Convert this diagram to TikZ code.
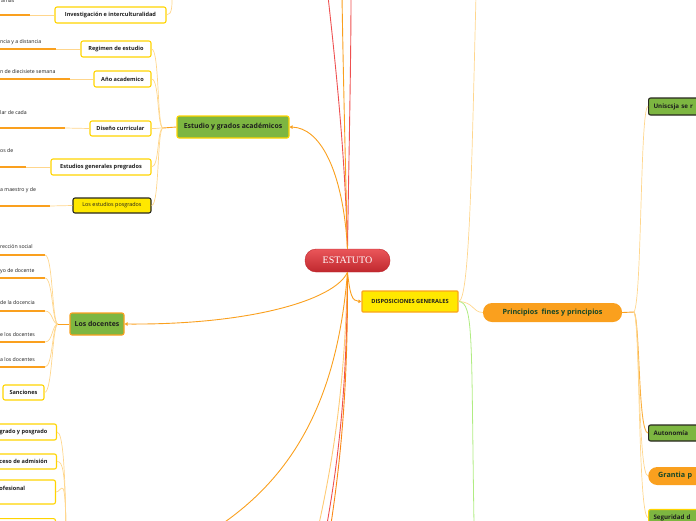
\documentclass[tikz,border=0pt]{standalone}
\usepackage{fontspec}
\usepackage{tikz}
\usetikzlibrary{positioning, arrows.meta, calc}
\newfontfamily\mapfont{Open Sans}
\newfontfamily\rootfont{Liberation Serif}
\definecolor{map_orange}{RGB}{250,160,30}
\definecolor{map_deep}{RGB}{250,135,20}
\definecolor{map_pale}{RGB}{255,214,140}
\definecolor{map_yellow}{RGB}{255,212,0}
\definecolor{map_lemon}{RGB}{255,232,0}
\definecolor{map_green}{RGB}{125,182,65}
\definecolor{map_black}{RGB}{40,40,30}
\definecolor{map_red}{RGB}{238,80,80}
\definecolor{map_lime}{RGB}{176,236,130}
\definecolor{map_text}{RGB}{30,30,30}
\definecolor{map_dkgreen}{RGB}{20,70,40}
\definecolor{map_rtop}{RGB}{234,86,90}
\definecolor{map_rbot}{RGB}{192,40,46}

\begin{document}
\begin{tikzpicture}[x=1pt, y=-1pt, >={Triangle[length=3pt, width=3.5pt]},
      sub/.style={draw=map_yellow, line width=1.1pt, fill=white, rounded corners=2pt,
        minimum height=15pt, inner sep=2pt, text=map_text,
        font=\mapfont\fontsize{5.6}{6.5}\selectfont\bfseries},
      hilite/.style={sub, fill=map_lemon, draw=map_black},
      branch/.style={sub, fill=map_green, minimum height=22pt,
        font=\mapfont\fontsize{6.9}{8}\selectfont\bfseries},
      pill/.style={fill=map_orange, rounded corners=9pt, minimum height=19pt,
        text=map_dkgreen, font=\mapfont\fontsize{7.2}{8.5}\selectfont\bfseries},
      cut/.style={anchor=west, text width=70pt, align=left, inner xsep=5pt},
      root/.style={rounded corners=11pt, minimum width=85pt, minimum height=23pt,
        top color=map_rtop, bottom color=map_rbot, draw=map_rbot, text=white,
        font=\rootfont\fontsize{10}{12}\selectfont},
      leaf/.style={anchor=west, inner sep=0pt, text=map_text,
        font=\mapfont\fontsize{5.2}{6}\selectfont},
      uline/.style={draw=map_orange, line width=1.6pt},
      link/.style={draw=map_pale, line width=0.7pt},
      trunk/.style={draw=map_orange, line width=0.9pt},
      redline/.style={draw=map_red, line width=0.9pt}]

    \useasboundingbox (0,0) rectangle (696,520);
    \clip (0,0) rectangle (696,520);

    %% ---- centre ---------------------------------------------------------
    \node[root] (estatuto) at (347.5,260.5) {ESTATUTO};

    \coordinate (up1) at (328,-4);
    \coordinate (up2) at (342,-4);
    \coordinate (up3) at (351,-4);
    \coordinate (dn1) at (319,524);
    \coordinate (dn2) at (327,524);
    \coordinate (dn3) at (331,524);
    \coordinate (dn4) at (222,524);

    \draw[redline] (estatuto.north) .. controls (345,150) and (335,60) .. (up1);
    \draw[trunk] (estatuto.north) .. controls (345,150) and (343,60) .. (up2);
    \draw[redline] (estatuto.north) .. controls (349,150) and (351,60) .. (up3);
    \draw[trunk, draw=map_pale!80!map_orange] (estatuto.south)
      .. controls (345,380) and (335,450) .. (dn1);
    \draw[redline] (estatuto.south) .. controls (347,380) and (340,450) .. (dn2);
    \draw[trunk, draw=map_deep] (estatuto.south) .. controls (348,380) and (342,450) .. (dn3);
    \draw[trunk] (estatuto.south) .. controls (338,390) and (300,470) .. (dn4);

    %% ---- (left, top) estudio y grados -----------------------------------
    \node[leaf, anchor=base west] (lf0) at (1,2.5) {amas};
    \coordinate (ul0) at (30,15);
    \node[sub, minimum width=111pt, minimum height=16pt] (invest) at (110.5,15)
      {Investigación e interculturalidad};
    \coordinate (top1) at (172,-4);

    \node[leaf] (lf1) at (0,42) {ncia y a distancia};
    \coordinate (ul1) at (56,49);
    \node[sub, minimum width=70pt, minimum height=16pt] (regimen) at (116,49) {Regimen de estudio};

    \node[leaf] (lf2) at (0,72) {n de diecisiete semana};
    \coordinate (ul2) at (70,79);
    \node[sub, minimum width=57pt, minimum height=16pt] (anio) at (122.5,79) {Año academico};

    \node[leaf] (lf3) at (0,113) {lar de cada};
    \coordinate (ul3) at (65,128);
    \node[sub, minimum width=61pt] (diseno) at (120.5,128.5) {Diseño curricular};

    \node[leaf] (lf4) at (0,151) {os de};
    \coordinate (ul4) at (26,167);
    \node[sub, minimum width=100pt, minimum height=16pt] (generales) at (101,167)
      {Estudios generales pregrados};

    \node[leaf] (lf5) at (0,190) {a maestro y de};
    \coordinate (ul5) at (50,206);
    \node[hilite, minimum width=78pt, font=\mapfont\fontsize{5.4}{6.5}\selectfont]
      (posgrados) at (112,205.5) {Los estudios posgrados};

    \node[branch, minimum width=112pt] (estudio) at (233,127) {Estudio y grados académicos};
    \coordinate (j1) at (163,128);

    \foreach \u/\n in {ul0/invest, ul1/regimen, ul2/anio, ul3/diseno, ul4/generales, ul5/posgrados} {
      \draw[uline] (\u) -- ++(-70,0);
      \draw[link] (\u) -- (\n.west);
    }
    \draw[link] (invest.east) .. controls +(6,0) and +(0,8) .. (top1);
    \foreach \n in {regimen, anio, diseno, generales, posgrados}
      \draw[link] (\n.east) .. controls +(8,0) and +(-6,0) .. (j1);
    \draw[trunk] (estudio.west) -- (j1);
    \draw[trunk, ->] (estatuto.north) .. controls (343,170) and (320,128) .. (estudio.east);

    %% ---- (left, middle) los docentes -------------------------------------
    \node[leaf] (lf6) at (0,247) {rección social};
    \coordinate (ul6) at (45,255);
    \node[leaf] (lf7) at (0,271) {yo de docente};
    \coordinate (ul7) at (45,278);
    \node[leaf] (lf8) at (0,303) {de la docencia};
    \coordinate (ul8) at (45,311);
    \node[leaf] (lf9) at (0,335) {e los docentes};
    \coordinate (ul9) at (45,342);
    \node[leaf] (lf10) at (0,360) {a los docentes};
    \coordinate (ul10) at (45,367);
    \node[sub, minimum width=41pt] (sanciones) at (23.5,392.5) {Sanciones};

    \node[branch, draw=map_orange, minimum width=54pt] (docentes) at (97,324) {Los docentes};
    \coordinate (j2) at (58,324);

    \foreach \u in {ul6, ul7, ul8, ul9, ul10} {
      \draw[uline] (\u) -- ++(-60,0);
      \draw[link] (\u) .. controls +(8,0) and +(-6,0) .. (j2);
    }
    \draw[link] (sanciones.east) .. controls +(8,0) and +(-6,0) .. (j2);
    \draw[trunk] (docentes.west) -- (j2);
    \draw[trunk, ->] (estatuto.south) .. controls (335,300) and (250,325) .. (docentes.east);

    %% ---- (left, bottom) cut off ------------------------------------------
    \node[sub, anchor=east, minimum width=66pt, minimum height=16pt] (grado) at (57,432) {grado y posgrado};
    \node[sub, anchor=east, minimum width=66pt] (admision) at (57,461.5) {ceso de admisión};
    \node[sub, anchor=east, text width=62pt, align=left, minimum height=24pt] (prof) at (56,492)
      {\hspace*{8pt}ofesional\\ \mbox{}};
    \node[sub, anchor=north east, minimum width=66pt, minimum height=16pt] (next) at (56,518) {};
    \coordinate (j3) at (66,530);
    \foreach \n in {grado, admision, prof}
      \draw[link] (\n.east) .. controls +(6,0) and +(-1,-60) .. (j3);

    %% ---- (right) disposiciones generales --------------------------------
    \node[sub, fill=map_lemon, draw=map_orange!90!map_yellow, rounded corners=1pt,
      minimum width=96pt, minimum height=21pt, font=\mapfont\fontsize{5.7}{6.5}\selectfont\bfseries]
      (disp) at (410,301.5) {DISPOSICIONES GENERALES};
    \draw[trunk, ->] (estatuto.south) .. controls (350,295) and (352,301) .. (disp.west);

    \node[pill, minimum width=139pt] (principios) at (552.5,312.5) {Principios\ \ fines y principios};
    \coordinate (up4) at (476,-4);
    \coordinate (dn5) at (474,524);
    \draw[link] (disp.east) .. controls (470,302) and (472,150) .. (up4);
    \draw[link] (disp.east) .. controls (474,302) and (472,312) .. (principios.west);
    \draw[draw=map_lime, line width=0.8pt] (disp.east) .. controls (474,302) and (471,340) .. (dn5);

    \node[branch, cut, draw=map_black, minimum height=17pt, font=\mapfont\fontsize{6.2}{7}\selectfont\bfseries]
      (uniscsja) at (648,106.5) {Uniscsja se r};
    \node[branch, cut, draw=map_black, minimum height=16pt, font=\mapfont\fontsize{6.2}{7}\selectfont\bfseries]
      (autonomia) at (648,433) {Autonomía};
    \node[pill, cut, minimum height=18pt, inner xsep=10pt] (grantia) at (648,476) {Grantia p};
    \node[branch, cut, minimum height=16pt, font=\mapfont\fontsize{6.2}{7}\selectfont\bfseries]
      (seguridad) at (648,517.5) {Seguridad d};

    \coordinate (j5) at (634,312);
    \draw[trunk] (principios.east) -- (j5);
    \draw[link] (j5) .. controls (642,300) and (640,106.5) .. (uniscsja.west);
    \draw[trunk, draw=map_orange!70!map_pale] (j5) .. controls (640,320) and (638,433) .. (autonomia.west);
    \draw[link] (j5) .. controls (640,320) and (638,476) .. (grantia.west);
    \draw[link] (j5) .. controls (640,320) and (638,517.5) .. (seguridad.west);
  \end{tikzpicture}
\end{document}
